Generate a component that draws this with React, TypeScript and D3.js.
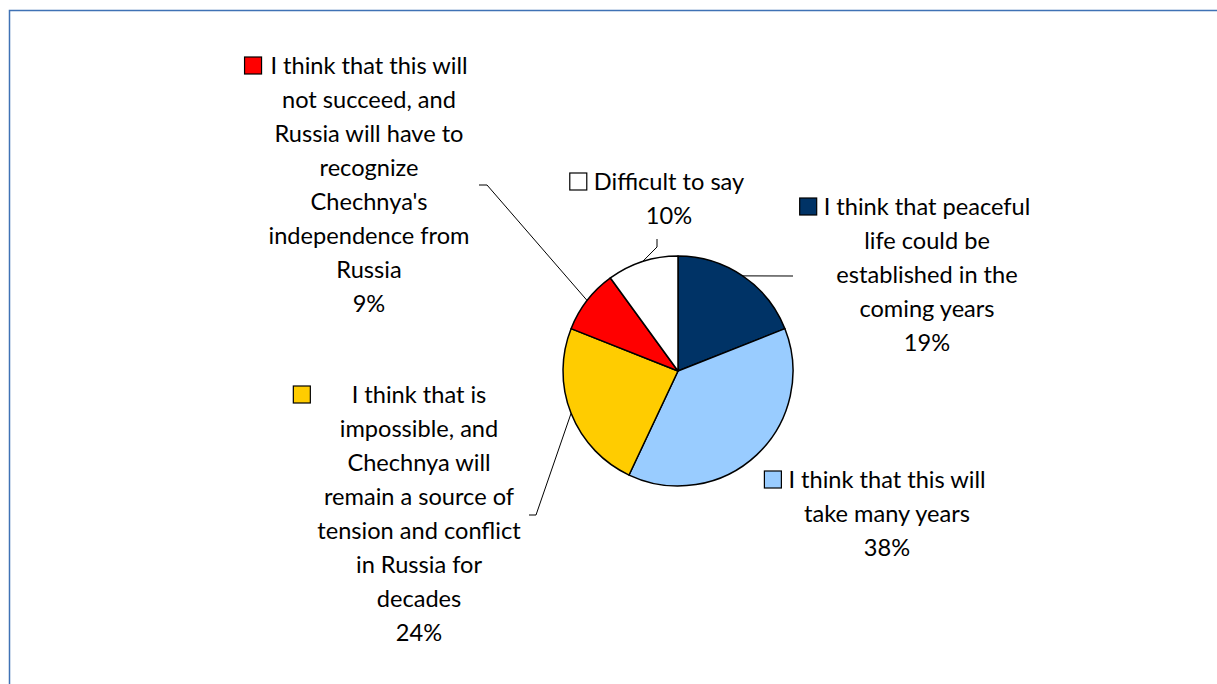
import React, { useEffect, useRef } from "react";
import * as d3 from "d3";

// ---- data ----
const categories: string[][] = [
  ["I think that peaceful", "life could be", "established in the", "coming years"],
  ["I think that this will", "take many years"],
  [
    "I think that is",
    "impossible, and",
    "Chechnya will",
    "remain a source of",
    "tension and conflict",
    "in Russia for",
    "decades",
  ],
  [
    "I think that this will",
    "not succeed, and",
    "Russia will have to",
    "recognize",
    "Chechnya's",
    "independence from",
    "Russia",
  ],
  ["Difficult to say"],
];
const values: number[] = [19, 38, 24, 9, 10];
const colors: string[] = ["#003366", "#99CCFF", "#FFCC00", "#FF0000", "#FFFFFF"];

// ---- layout ----
const W = 1217;
const H = 684;
const CX = 678;
const CY = 371;
const R = 115;
const FONT = "Lato, 'DejaVu Sans', sans-serif";
const FONT_SIZE = 23.6;
const LINE_H = 34;
const KEY = 17;
const KEY_GAP = 7;
const labelPos = [
  { x: 927, y: 215 },
  { x: 887, y: 488 },
  { x: 419, y: 403 },
  { x: 369, y: 74 },
  { x: 669, y: 190 },
];
const leaderBends: ([number, number][] | null)[] = [
  [[793, 276]],
  null,
  [
    [536, 515],
    [529, 515],
  ],
  [
    [487, 185],
    [479, 185],
  ],
  [
    [657, 247],
    [657, 239],
  ],
];

export default function App() {
  const ref = useRef<SVGSVGElement>(null);

  useEffect(() => {
    const svg = d3.select(ref.current);
    svg.selectAll("*").remove();

    svg
      .append("rect")
      .attr("x", 9.5)
      .attr("y", 10.5)
      .attr("width", 1400)
      .attr("height", 900)
      .attr("fill", "#fff")
      .attr("stroke", "#3f72b5")
      .attr("stroke-width", 1.5);

    const pie = d3
      .pie<number>()
      .sort(null)
      .value((d) => d);
    const arcs = pie(values);
    const arc = d3.arc<d3.PieArcDatum<number>>().innerRadius(0).outerRadius(R);

    const g = svg.append("g").attr("transform", `translate(${CX},${CY})`);
    g.selectAll("path")
      .data(arcs)
      .join("path")
      .attr("d", arc)
      .attr("fill", (_, i) => colors[i])
      .attr("stroke", "#000")
      .attr("stroke-width", 1.5)
      .attr("stroke-linejoin", "round");

    // leader lines
    arcs.forEach((a, i) => {
      const bends = leaderBends[i];
      if (!bends) return;
      const mid = (a.startAngle + a.endAngle) / 2;
      const p0: [number, number] = [CX + R * Math.sin(mid), CY - R * Math.cos(mid)];
      svg
        .append("path")
        .attr("d", d3.line()([p0, ...bends]))
        .attr("fill", "none")
        .attr("stroke", "#000")
        .attr("stroke-width", 1);
    });

    // labels
    categories.forEach((lines, i) => {
      const all = [...lines, `${values[i]}%`];
      const pos = labelPos[i];
      const lg = svg.append("g");
      const texts = all.map((t, k) =>
        lg
          .append("text")
          .attr("x", pos.x)
          .attr("y", pos.y + k * LINE_H)
          .attr("text-anchor", "middle")
          .attr("font-family", FONT)
          .attr("font-size", FONT_SIZE)
          .attr("fill", "#000")
          .text(t)
      );
      const maxW = d3.max(texts, (t) => (t.node() as SVGTextElement).getComputedTextLength()) || 0;
      lg.append("rect")
        .attr("x", pos.x - maxW / 2 - KEY_GAP - KEY)
        .attr("y", pos.y - KEY)
        .attr("width", KEY)
        .attr("height", KEY)
        .attr("fill", colors[i])
        .attr("stroke", "#000")
        .attr("stroke-width", 1.2);
    });
  }, []);

  return (
    <svg
      ref={ref}
      width={W}
      height={H}
      style={{ position: "absolute", left: 0, top: 0, display: "block" }}
    />
  );
}
